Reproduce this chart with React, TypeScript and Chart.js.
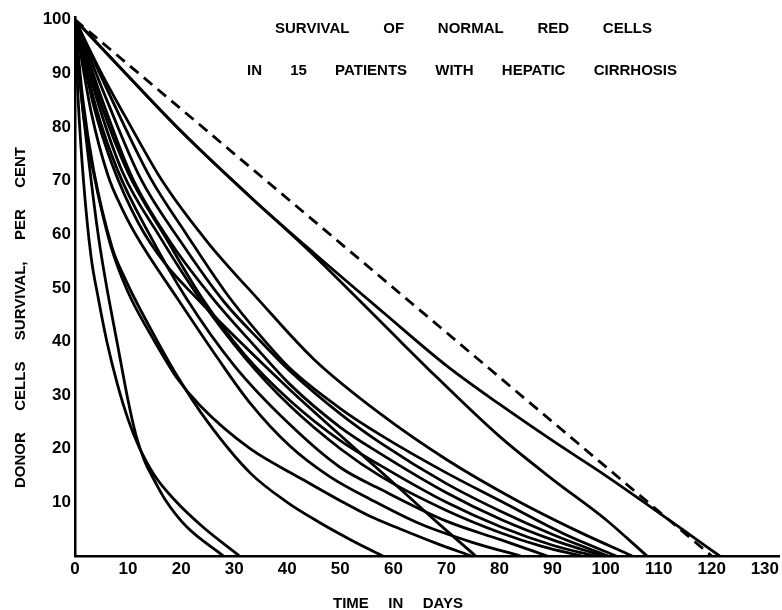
import React, { useEffect, useRef } from "react";
import { Chart, registerables } from "chart.js";

Chart.register(...registerables);

// ---- axis ticks ----
const X_TICKS = [0, 10, 20, 30, 40, 50, 60, 70, 80, 90, 100, 110, 120, 130];
const Y_TICKS = [10, 20, 30, 40, 50, 60, 70, 80, 90, 100];

// ---- texts ----
const TITLE_LINE_1 = ["SURVIVAL", "OF", "NORMAL", "RED", "CELLS"];
const TITLE_LINE_2 = ["IN", "15", "PATIENTS", "WITH", "HEPATIC", "CIRRHOSIS"];
const X_TITLE = ["TIME", "IN", "DAYS"];
const Y_TITLE = ["DONOR", "CELLS", "SURVIVAL,", "PER", "CENT"];

// ---- normal survival (dashed reference line) ----
const NORMAL_DAYS = [0, 120];
const NORMAL_VALUES = [100, 0];

// ---- 15 patients: days and per cent survival ----
const P1_DAYS = [0, 10, 20, 33, 45, 58, 70, 80, 90, 100, 109, 115, 121.5];
const P1_VALUES = [100, 89.5, 79.2, 67, 56.5, 45.5, 35.5, 28.3, 21.5, 15, 8.8, 4.6, 0];

const P2_DAYS = [0, 10, 20, 33, 44, 58, 68, 80, 90, 100, 107.8];
const P2_VALUES = [100, 89.5, 79.2, 67, 57, 43.3, 33.5, 22.3, 14.3, 6.8, 0];

const P3_DAYS = [0, 0.6, 1.6, 3, 4.4, 6, 8, 10, 12, 15, 19, 24, 31];
const P3_VALUES = [100, 85, 70, 56, 48, 40, 32, 25.5, 20.5, 15, 10.2, 5.5, 0];

const P4_DAYS = [0, 1, 2.8, 4.5, 6, 8, 10, 11.5, 13, 15, 17, 21, 28];
const P4_VALUES = [100, 88, 72, 59, 50, 39.5, 29, 22.5, 18, 14, 10.5, 5.5, 0];

const P5_DAYS = [0, 1.5, 3.5, 7, 9.3, 11.5, 15, 19, 25, 33, 40, 46, 52, 58];
const P5_VALUES = [100, 85, 72, 57.5, 52, 47.5, 41, 34, 25, 15.5, 10, 6.3, 3, 0];

const P6_DAYS = [0, 1.5, 3.8, 5.5, 7, 9, 10.8, 15, 19, 23.6, 33, 42.5, 50, 55.8, 61.4, 68, 74.7];
const P6_VALUES = [100, 83, 70, 62.5, 57, 51.5, 47.5, 40, 33.5, 28, 20, 14.5, 10.3, 7.3, 5, 2.4, 0];

const P7_DAYS = [0, 5, 10, 16.4, 25, 34.4, 45, 57.7, 70, 83, 95, 105];
const P7_VALUES = [100, 90, 81, 70, 58.5, 48, 36.7, 26.4, 18, 10.5, 4.5, 0];

const P8_DAYS = [0, 3.5, 7, 12, 17, 23, 30, 40.5, 50, 61.4, 68, 75.5];
const P8_VALUES = [100, 84, 73, 62, 54.5, 48, 41, 31, 22.5, 12.4, 6.5, 0];

const P9_DAYS = [0, 3, 6.2, 9, 12, 19.3, 26.8, 33, 40.5, 48, 55.8, 65, 75, 84];
const P9_VALUES = [100, 83, 71, 64.5, 59, 48, 37, 28.5, 20.5, 14.8, 10.5, 6, 2.5, 0];

const P10_DAYS = [0, 4, 8, 14, 21, 30, 40.5, 50, 57.7, 70, 80.3, 89];
const P10_VALUES = [100, 83.5, 72, 60, 48, 35.5, 24.5, 16.5, 12.4, 6.5, 3, 0];

const P11_DAYS = [0, 4.5, 9, 16, 23.5, 32, 40.5, 50, 57.7, 70, 80.3, 88, 95.5];
const P11_VALUES = [100, 84, 71.5, 59.5, 48, 37, 28, 20, 14.8, 8.5, 4.3, 1.8, 0];

const P12_DAYS = [0, 5, 10, 17, 24, 32, 40.5, 50, 57.7, 70, 80.3, 90, 98];
const P12_VALUES = [100, 84, 71.5, 59.5, 48, 37.5, 29, 21.5, 16.8, 10, 5.4, 2, 0];

const P13_DAYS = [0, 5.5, 10.8, 18, 26, 34, 40.5, 50, 57.7, 70, 80.3, 90, 99.5];
const P13_VALUES = [100, 84, 70.5, 58.5, 48, 39, 32, 24, 19, 11.8, 6.8, 3, 0];

const P14_DAYS = [0, 6, 12.3, 20, 28, 35, 40.5, 50, 57.7, 70, 80.3, 90, 100.5];
const P14_VALUES = [100, 85, 70.5, 58.5, 47.5, 40, 34.5, 26.5, 21, 13.5, 8.3, 4, 0];

const P15_DAYS = [0, 7, 14.2, 21, 28.5, 35, 40.5, 50, 57.7, 70, 80.3, 92, 102];
const P15_VALUES = [100, 85, 70.5, 60, 49, 41, 35, 27.5, 22.5, 15.5, 10.2, 4.2, 0];

const PATIENTS: [number[], number[]][] = [
  [P1_DAYS, P1_VALUES],
  [P2_DAYS, P2_VALUES],
  [P3_DAYS, P3_VALUES],
  [P4_DAYS, P4_VALUES],
  [P5_DAYS, P5_VALUES],
  [P6_DAYS, P6_VALUES],
  [P7_DAYS, P7_VALUES],
  [P8_DAYS, P8_VALUES],
  [P9_DAYS, P9_VALUES],
  [P10_DAYS, P10_VALUES],
  [P11_DAYS, P11_VALUES],
  [P12_DAYS, P12_VALUES],
  [P13_DAYS, P13_VALUES],
  [P14_DAYS, P14_VALUES],
  [P15_DAYS, P15_VALUES],
];

const FONT_FAMILY = '"Liberation Sans", Arial, Helvetica, sans-serif';
const INK = "#000";

function toPoints(days: number[], values: number[]) {
  return days.map((d, i) => ({ x: d, y: values[i] }));
}

function drawSpread(
  ctx: CanvasRenderingContext2D,
  words: string[],
  from: number,
  to: number,
  baseline: number
) {
  const widths = words.map((w) => ctx.measureText(w).width);
  const total = widths.reduce((a, b) => a + b, 0);
  const gap = words.length > 1 ? (to - from - total) / (words.length - 1) : 0;
  let x = from;
  words.forEach((w, i) => {
    ctx.fillText(w, x, baseline);
    x += widths[i] + gap;
  });
}

const textPlugin = {
  id: "figureTexts",
  afterDraw(chart: any) {
    const ctx: CanvasRenderingContext2D = chart.ctx;
    ctx.save();
    ctx.fillStyle = INK;
    ctx.textAlign = "left";
    ctx.textBaseline = "alphabetic";
    ctx.font = `bold 15px ${FONT_FAMILY}`;
    drawSpread(ctx, TITLE_LINE_1, 275, 652, 33);
    drawSpread(ctx, TITLE_LINE_2, 247, 677, 75);
    drawSpread(ctx, X_TITLE, 333, 463, 608);
    ctx.translate(25, 488);
    ctx.rotate(-Math.PI / 2);
    drawSpread(ctx, Y_TITLE, 0, 341, 0);
    ctx.restore();
  },
};

export default function App() {
  const canvasRef = useRef<HTMLCanvasElement | null>(null);

  useEffect(() => {
    const canvas = canvasRef.current;
    if (!canvas) return;

    const datasets: any[] = [
      {
        label: "Normal red cells",
        data: toPoints(NORMAL_DAYS, NORMAL_VALUES),
        showLine: true,
        borderColor: INK,
        borderWidth: 2.8,
        borderDash: [11, 7],
        pointRadius: 0,
        fill: false,
      },
      ...PATIENTS.map(([days, values], i) => ({
        label: `Patient ${i + 1}`,
        data: toPoints(days, values),
        showLine: true,
        borderColor: INK,
        borderWidth: 2.8,
        pointRadius: 0,
        fill: false,
        cubicInterpolationMode: "monotone",
      })),
    ];

    const tickFont = { family: FONT_FAMILY, size: 17, weight: "bold" as const };

    const chart = new Chart(canvas, {
      type: "scatter",
      data: { datasets },
      plugins: [textPlugin],
      options: {
        animation: false,
        responsive: false,
        maintainAspectRatio: false,
        layout: { padding: { top: 17, right: 0, bottom: 0, left: 0 } },
        plugins: {
          legend: { display: false },
          tooltip: { enabled: false },
          title: { display: false },
        },
        scales: {
          x: {
            type: "linear",
            min: 0,
            max: 132.8,
            grid: { display: false, drawTicks: false, tickLength: 0 },
            border: { display: true, color: INK, width: 2.5 },
            afterBuildTicks: (scale: any) => {
              scale.ticks = X_TICKS.map((value) => ({ value }));
            },
            afterFit: (scale: any) => {
              scale.height = 54;
            },
            ticks: {
              color: INK,
              font: tickFont,
              padding: 3,
              maxRotation: 0,
              autoSkip: false,
              callback: (v: any) => String(v),
            },
          },
          y: {
            type: "linear",
            min: 0,
            max: 100.5,
            grid: { display: false, drawTicks: false, tickLength: 0 },
            border: { display: true, color: INK, width: 2.5 },
            afterBuildTicks: (scale: any) => {
              scale.ticks = Y_TICKS.map((value) => ({ value }));
            },
            afterFit: (scale: any) => {
              scale.width = 75;
            },
            ticks: {
              color: INK,
              font: tickFont,
              padding: 4,
              autoSkip: false,
              callback: (v: any) => String(v),
            },
          },
        },
      } as any,
    });

    return () => chart.destroy();
  }, []);

  return (
    <div
      style={{
        position: "absolute",
        left: 0,
        top: 0,
        width: 782,
        height: 610,
        background: "#fff",
      }}
    >
      <canvas ref={canvasRef} width={782} height={610} />
    </div>
  );
}
